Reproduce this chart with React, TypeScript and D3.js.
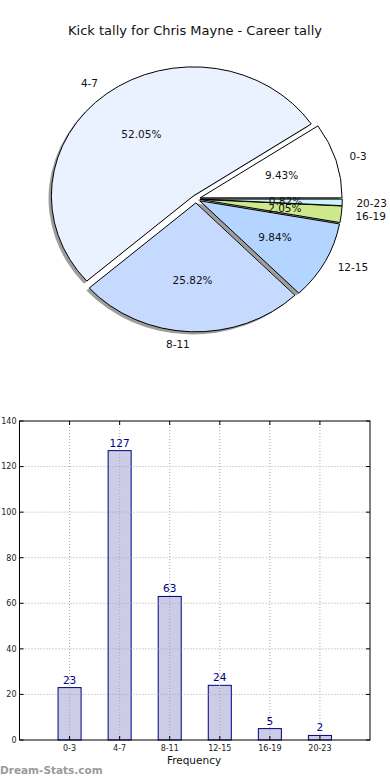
import * as React from "react";
import * as d3 from "d3";

const categories = ["0-3", "4-7", "8-11", "12-15", "16-19", "20-23"];
const tally = [23, 127, 63, 24, 5, 2];
const sliceColors = ["#ffffff", "#eaf1ff", "#c6d9ff", "#b3d5ff", "#cde98c", "#ccf2ff"];
const yTicks = [0, 20, 40, 60, 80, 100, 120, 140];

const W = 390;
const H = 780;
const font = "DejaVu Sans, sans-serif";

const App = () => {
  const ref = React.useRef(null);

  React.useEffect(() => {
    const svg = d3.select(ref.current);
    svg.selectAll("*").remove();

    svg
      .append("text")
      .attr("x", 195)
      .attr("y", 35)
      .attr("text-anchor", "middle")
      .style("font-family", font)
      .style("font-size", "13px")
      .style("fill", "#111")
      .text("Kick tally for Chris Mayne - Career tally");

    // pie: matplotlib style, ccw from east, exploded + shadow, squashed
    const cx = 196;
    const cy = 199;
    const rx = 142;
    const ry = 129;
    const explode = 0.03;
    const total = d3.sum(tally);
    const fmt = d3.format(".2f");

    const pie = d3
      .pie<number>()
      .value(d => d)
      .sort(null)
      .startAngle(Math.PI / 2)
      .endAngle(Math.PI / 2 - 2 * Math.PI);
    const arc = d3.arc<any>().innerRadius(0).outerRadius(1);
    const arcs = pie(tally);

    const dirOf = (d: any) => {
      const a = (d.startAngle + d.endAngle) / 2;
      return [Math.sin(a), -Math.cos(a)];
    };

    const pieG = svg.append("g").attr("transform", `translate(${cx},${cy}) scale(${rx},${ry})`);

    pieG
      .selectAll("path.shadow")
      .data(arcs)
      .enter()
      .append("path")
      .attr("class", "shadow")
      .attr("d", arc)
      .attr("transform", d => {
        const [dx, dy] = dirOf(d);
        return `translate(${dx * explode - 0.02},${dy * explode + 0.02})`;
      })
      .attr("fill", "#4c4c4c")
      .attr("opacity", 0.55);

    pieG
      .selectAll("path.wedge")
      .data(arcs)
      .enter()
      .append("path")
      .attr("class", "wedge")
      .attr("d", arc)
      .attr("transform", d => {
        const [dx, dy] = dirOf(d);
        return `translate(${dx * explode},${dy * explode})`;
      })
      .attr("fill", (d, i) => sliceColors[i])
      .attr("stroke", "#000")
      .attr("stroke-width", 1)
      .attr("vector-effect", "non-scaling-stroke");

    const labels = svg.append("g").style("font-family", font).style("fill", "#111");

    arcs.forEach((d, i) => {
      const [dx, dy] = dirOf(d);
      const ox = cx + dx * explode * rx;
      const oy = cy + dy * explode * ry;
      labels
        .append("text")
        .attr("x", ox + dx * 1.1 * rx)
        .attr("y", oy + dy * 1.1 * ry)
        .attr("dy", "0.36em")
        .attr("text-anchor", dx >= 0 ? "start" : "end")
        .style("font-size", "10.5px")
        .text(categories[i]);
      labels
        .append("text")
        .attr("x", ox + dx * 0.6 * rx)
        .attr("y", oy + dy * 0.6 * ry)
        .attr("dy", "0.36em")
        .attr("text-anchor", "middle")
        .style("font-size", "10.5px")
        .text(fmt((tally[i] / total) * 100) + "%");
    });

    // bar chart
    const left = 19.5;
    const right = 370;
    const top = 421;
    const bottom = 740;
    const x = d3.scaleLinear().domain([-1, 6]).range([left, right]);
    const y = d3.scaleLinear().domain([0, 140]).range([bottom, top]);
    const barW = x(0.46) - x(0);

    const bars = svg.append("g");

    bars
      .selectAll("rect")
      .data(tally)
      .enter()
      .append("rect")
      .attr("x", (d, i) => x(i) - barW / 2)
      .attr("y", d => y(d))
      .attr("width", barW)
      .attr("height", d => y(0) - y(d))
      .attr("fill", "#ccccE6")
      .attr("stroke", "#000080")
      .attr("stroke-width", 1);

    const grid = svg.append("g").attr("stroke", "#a8a8a8").attr("stroke-dasharray", "1,2").attr("stroke-width", 1);
    yTicks.slice(1, -1).forEach(t => {
      grid.append("line").attr("x1", left).attr("x2", right).attr("y1", y(t)).attr("y2", y(t));
    });
    categories.forEach((c, i) => {
      grid.append("line").attr("x1", x(i)).attr("x2", x(i)).attr("y1", top).attr("y2", bottom);
    });

    const axes = svg.append("g").attr("stroke", "#000").attr("stroke-width", 1);
    yTicks.forEach(t => {
      axes.append("line").attr("x1", left).attr("x2", left + 4).attr("y1", y(t)).attr("y2", y(t));
      axes.append("line").attr("x1", right - 4).attr("x2", right).attr("y1", y(t)).attr("y2", y(t));
    });
    categories.forEach((c, i) => {
      axes.append("line").attr("x1", x(i)).attr("x2", x(i)).attr("y1", bottom).attr("y2", bottom - 4);
      axes.append("line").attr("x1", x(i)).attr("x2", x(i)).attr("y1", top).attr("y2", top + 4);
    });
    axes
      .append("rect")
      .attr("x", left)
      .attr("y", top)
      .attr("width", right - left)
      .attr("height", bottom - top)
      .attr("fill", "none");

    const txt = svg.append("g").style("font-family", font);
    yTicks.forEach(t => {
      txt
        .append("text")
        .attr("x", left - 3)
        .attr("y", y(t))
        .attr("dy", "0.35em")
        .attr("text-anchor", "end")
        .style("font-size", "8px")
        .style("fill", "#222")
        .text(t);
    });
    categories.forEach((c, i) => {
      txt
        .append("text")
        .attr("x", x(i))
        .attr("y", bottom + 11)
        .attr("text-anchor", "middle")
        .style("font-size", "8px")
        .style("fill", "#222")
        .text(c);
    });
    tally.forEach((v, i) => {
      txt
        .append("text")
        .attr("x", x(i))
        .attr("y", y(v) - 4)
        .attr("text-anchor", "middle")
        .style("font-size", "10.5px")
        .style("fill", "#000080")
        .text(v);
    });
    txt
      .append("text")
      .attr("x", 194)
      .attr("y", 764)
      .attr("text-anchor", "middle")
      .style("font-size", "10.5px")
      .style("fill", "#111")
      .text("Frequency");
    txt
      .append("text")
      .attr("x", 0)
      .attr("y", 774)
      .style("font-size", "10.5px")
      .style("font-weight", "bold")
      .style("fill", "#9a9a9a")
      .text("Dream-Stats.com");
  }, []);

  return (
    <svg
      ref={ref}
      width={W}
      height={H}
      style={{ position: "absolute", left: 0, top: 0, background: "#fff" }}
    />
  );
};

export default App;
